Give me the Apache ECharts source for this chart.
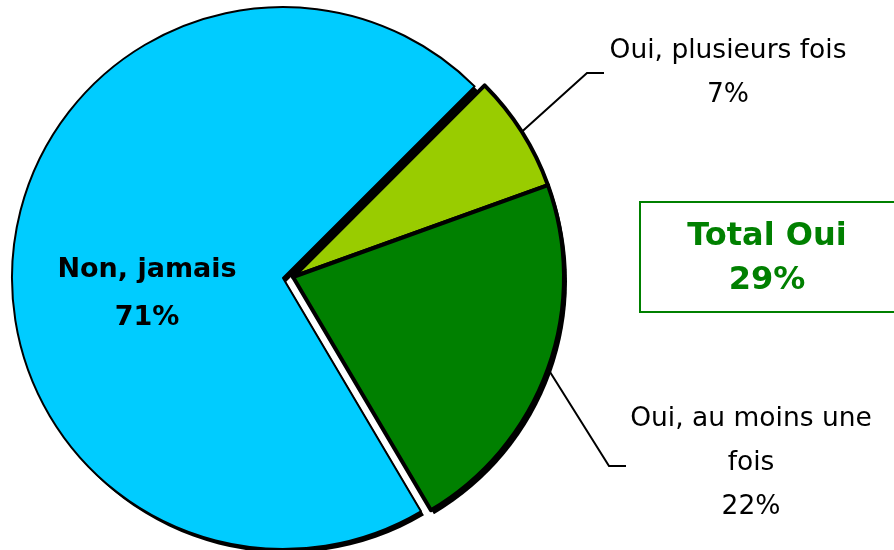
<!DOCTYPE html>
<html>
<head>
    <meta charset="utf-8">
    <title>Pie</title>
    <script src="https://cdn.jsdelivr.net/npm/echarts@6/dist/echarts.min.js"></script>
</head>
<body style="margin:0">
    <div id="main" style="width:894px;height:550px;"></div>
    <script type="text/javascript">
        // data
        var categories = ['Oui, plusieurs fois', 'Oui, au moins une\nfois', 'Non, jamais'];
        var values = [7, 22, 71];
        var colors = ['#99cc00', '#008000', '#00ccff'];
        var exploded = [true, true, false];
        var totalLabel = 'Total Oui';
        var totalValue = values[0] + values[1];

        var myChart = echarts.init(document.getElementById('main'));

        var font = 'DejaVu Sans';
        var R = 271;
        var mainCenter = [283, 278];
        var explCenter = [293, 277];
        // where the labels sit
        var labelSpots = {
            0: { x: 728, y: 73, elbow: [587, 73], end: [604, 73] },
            1: { x: 751, y: 463, elbow: [609, 466], end: [626, 466] },
            2: { x: 147, y: 294 }
        };

        function buildData(group, isShadow) {
            return categories.map(function (name, i) {
                var visible = exploded[i] === group;
                var style;
                if (!visible) {
                    style = { color: 'transparent', borderWidth: 0 };
                } else if (isShadow) {
                    style = { color: '#000', borderWidth: 0 };
                } else {
                    style = {
                        color: colors[i],
                        borderColor: '#000',
                        borderWidth: exploded[i] ? 4 : 2
                    };
                }
                return {
                    name: name,
                    value: values[i],
                    itemStyle: style,
                    label: { show: visible && !isShadow },
                    labelLine: { show: visible && !isShadow && exploded[i] },
                    emphasis: { disabled: true }
                };
            });
        }

        function layout(p) {
            var s = labelSpots[p.dataIndex];
            if (!s) return {};
            var out = { x: s.x, y: s.y, align: 'center', verticalAlign: 'middle' };
            if (s.elbow && p.labelLinePoints) {
                out.labelLinePoints = [p.labelLinePoints[0], s.elbow, s.end];
            }
            return out;
        }

        function fmt(p) { return p.name + '\n' + p.value + '%'; }

        function pie(center, group, isShadow, label) {
            return {
                type: 'pie',
                center: center,
                radius: R,
                startAngle: 45,
                clockwise: true,
                silent: true,
                label: label || { show: false },
                labelLine: { lineStyle: { color: '#000', width: 2 } },
                labelLayout: label ? layout : undefined,
                data: buildData(group, isShadow)
            };
        }

        var option = {
            animation: false,
            series: [
                pie([mainCenter[0] + 3, mainCenter[1] + 4], false, true),
                pie([explCenter[0] + 3, explCenter[1] + 4], true, true),
                pie(mainCenter, false, false, {
                    position: 'inside',
                    fontFamily: font,
                    fontSize: 27,
                    fontWeight: 'bold',
                    color: '#000',
                    lineHeight: 48,
                    formatter: fmt
                }),
                pie(explCenter, true, false, {
                    position: 'outside',
                    fontFamily: font,
                    fontSize: 26.5,
                    color: '#000',
                    lineHeight: 44,
                    align: 'center',
                    formatter: fmt
                })
            ],
            graphic: [{
                type: 'rect',
                shape: { x: 640, y: 202, width: 260, height: 110 },
                style: { fill: '#fff', stroke: '#008000', lineWidth: 2 }
            }, {
                type: 'text',
                x: 767,
                y: 259,
                style: {
                    text: totalLabel + '\n' + totalValue + '%',
                    fontFamily: font,
                    fontSize: 32,
                    fontWeight: 'bold',
                    fill: '#008000',
                    align: 'center',
                    verticalAlign: 'middle',
                    lineHeight: 44
                }
            }]
        };

        myChart.setOption(option);
    </script>
</body>
</html>
